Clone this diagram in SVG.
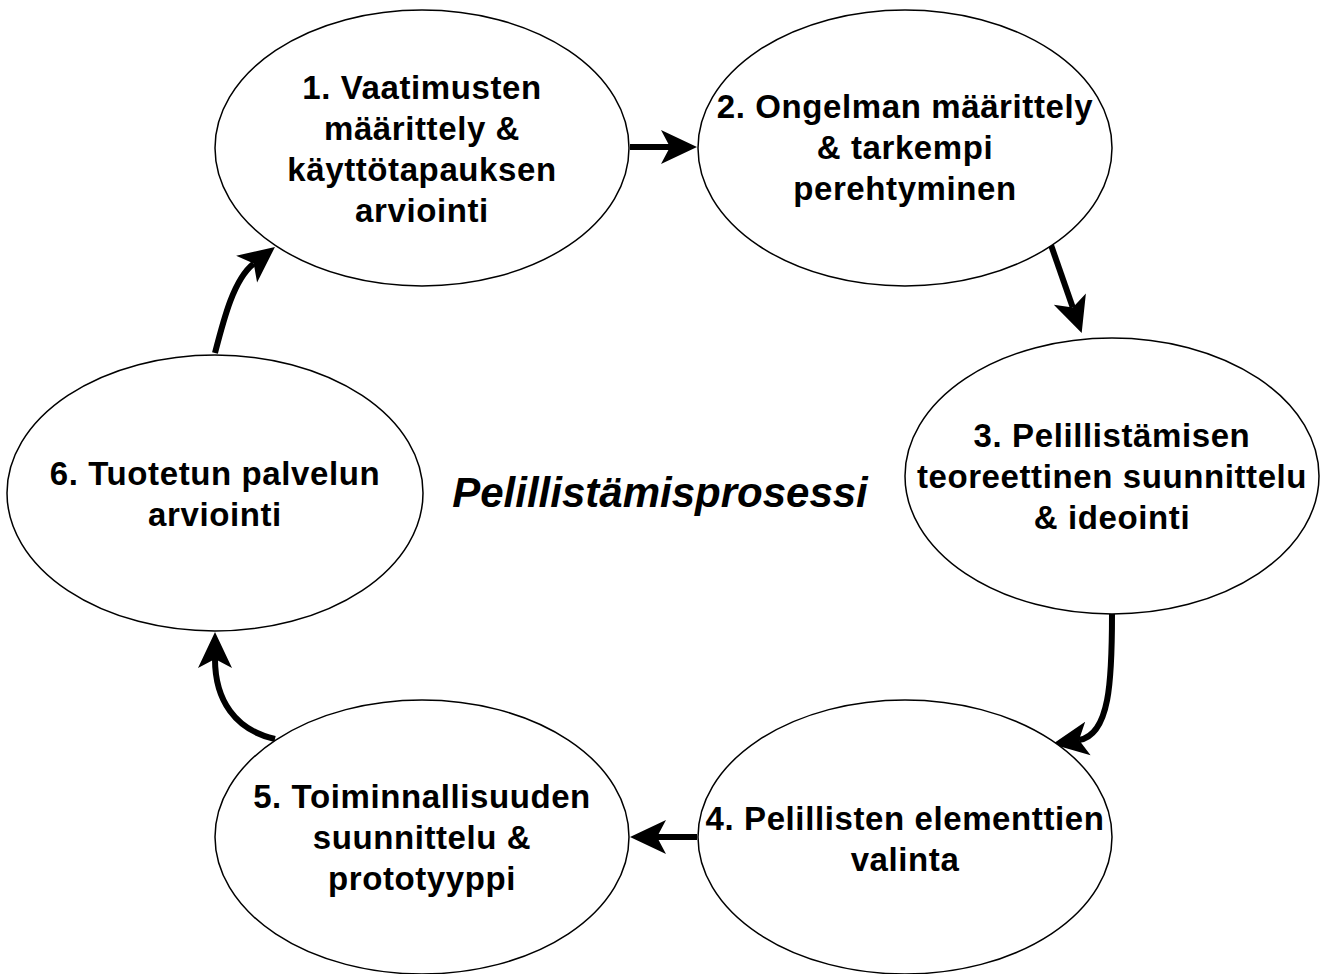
<svg xmlns="http://www.w3.org/2000/svg" width="1328" height="974" viewBox="0 0 1328 974">
<style>
.node ellipse{fill:#fff;stroke:#000;stroke-width:1.5}
.node text{font-family:"Liberation Sans",Arial,Helvetica,sans-serif;font-weight:bold;font-size:33px;letter-spacing:0.6px;text-anchor:middle;fill:#000}
.title{font-family:"Liberation Sans",Arial,Helvetica,sans-serif;font-weight:bold;font-style:italic;font-size:42px;text-anchor:middle;fill:#000}
#connectors path{fill:none;stroke:#000;stroke-width:6;marker-end:url(#arrow)}
</style>
<defs>
<marker id="arrow" viewBox="-10 -18 38 36" refX="0" refY="0" markerWidth="38" markerHeight="36" markerUnits="userSpaceOnUse" orient="auto">
<path d="M27,0 L-9,-17 L0,0 L-9,17 Z" fill="#000"/>
</marker>
</defs>
<rect width="1328" height="974" fill="#fff"/>
<g id="connectors">
<path d="M630,147 L670,147"/>
<path d="M1051,245 L1072.8,307.6"/>
<path d="M1112,614 C1112,680 1110,735 1079,740"/>
<path d="M697,837 L657,837"/>
<path d="M275,739 C235,730 215,700 215,659"/>
<path d="M215,353 C224,318 234,279 253.7,263.6"/>
</g>
<g id="node1" class="node">
<ellipse cx="422" cy="148" rx="207" ry="138"/>
<text x="422" y="99">1. Vaatimusten</text>
<text x="422" y="140">määrittely &amp;</text>
<text x="422" y="181">käyttötapauksen</text>
<text x="422" y="222">arviointi</text>
</g>
<g id="node2" class="node">
<ellipse cx="905" cy="148" rx="207" ry="138"/>
<text x="905" y="118">2. Ongelman määrittely</text>
<text x="905" y="159">&amp; tarkempi</text>
<text x="905" y="200">perehtyminen</text>
</g>
<g id="node3" class="node">
<ellipse cx="1112" cy="476" rx="207" ry="138"/>
<text x="1112" y="447">3. Pelillistämisen</text>
<text x="1112" y="488">teoreettinen suunnittelu</text>
<text x="1112" y="529">&amp; ideointi</text>
</g>
<g id="node4" class="node">
<ellipse cx="905" cy="837" rx="207" ry="137"/>
<text x="905" y="830">4. Pelillisten elementtien</text>
<text x="905" y="871">valinta</text>
</g>
<g id="node5" class="node">
<ellipse cx="422" cy="837" rx="207" ry="137"/>
<text x="422" y="808">5. Toiminnallisuuden</text>
<text x="422" y="849">suunnittelu &amp;</text>
<text x="422" y="890">prototyyppi</text>
</g>
<g id="node6" class="node">
<ellipse cx="215" cy="493" rx="208" ry="138"/>
<text x="215" y="485">6. Tuotetun palvelun</text>
<text x="215" y="526">arviointi</text>
</g>
<text class="title" x="660" y="507">Pelillistämisprosessi</text>
</svg>
